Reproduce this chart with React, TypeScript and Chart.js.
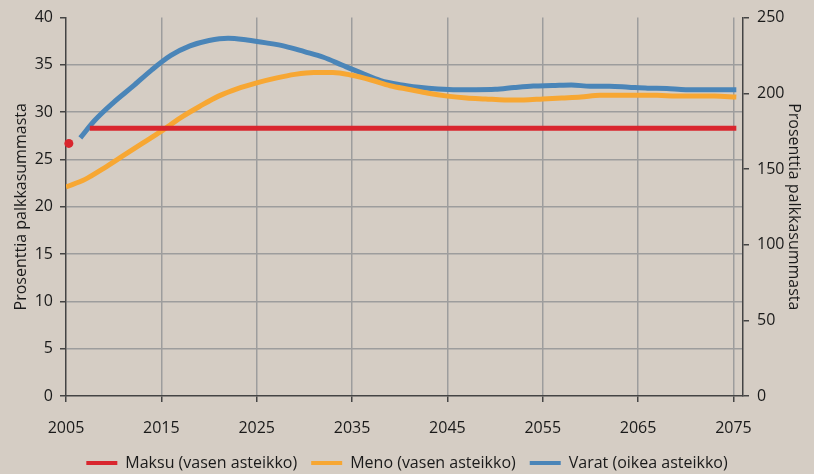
import React, { useEffect, useRef } from "react";
import { Chart, registerables } from "chart.js";

Chart.register(...registerables);

// X axis tick labels (years)
const xTicks = [2005, 2015, 2025, 2035, 2045, 2055, 2065, 2075];

// Maksu (left axis)
const maksuYears = [2007.5, 2075.3];
const maksuValues = [28.3, 28.3];
const maksuDotYears = [2005.3];
const maksuDotValues = [26.7];

// Meno (left axis)
const menoYears = [
  2005, 2007, 2009, 2011, 2013, 2015, 2017, 2019, 2021, 2023, 2025, 2027,
  2029, 2031, 2033, 2035, 2037, 2039, 2041, 2043, 2045, 2047, 2049, 2051,
  2053, 2055, 2057, 2059, 2061, 2063, 2065, 2067, 2069, 2071, 2073, 2075.3,
];
const menoValues = [
  22.1, 22.9, 24.1, 25.4, 26.7, 28.0, 29.4, 30.6, 31.7, 32.5, 33.1, 33.6,
  34.0, 34.2, 34.2, 33.9, 33.4, 32.8, 32.4, 32.0, 31.7, 31.5, 31.4, 31.3,
  31.3, 31.4, 31.5, 31.6, 31.8, 31.8, 31.8, 31.8, 31.7, 31.7, 31.7, 31.6,
];

// Varat (right axis)
const varatYears = [
  2006.5, 2008, 2010, 2012, 2014, 2016, 2018, 2020, 2022, 2024, 2026, 2028,
  2030, 2032, 2034, 2036, 2038, 2040, 2042, 2044, 2046, 2048, 2050, 2052,
  2054, 2056, 2058, 2060, 2062, 2064, 2066, 2068, 2070, 2072, 2075.3,
];
const varatValues = [
  170.5, 182, 194, 204.5, 215.5, 225, 231.3, 234.9, 236.4, 235.2, 233.3, 231,
  227.5, 223.8, 218.5, 213.3, 208.4, 205.7, 204, 202.9, 202.4, 202.4, 202.6, 203.8,
  204.8, 205.1, 205.5, 204.6, 204.6, 204, 203.4, 203.1, 202.4, 202.4, 202.4,
];

const labels = ["Maksu (vasen asteikko)", "Meno (vasen asteikko)", "Varat (oikea asteikko)"];
const axisTitle = "Prosenttia palkkasummasta";

const RED = "#d9262e";
const ORANGE = "#f7a733";
const BLUE = "#4a85b8";
const GRID = "#9d9d9d";
const AXIS = "#444444";
const TEXT = "#1a1a1a";
const FONT = "'Open Sans', sans-serif";

const pts = (xs: number[], ys: number[]) => xs.map((x, i) => ({ x, y: ys[i] }));

export default function App() {
  const ref = useRef<HTMLCanvasElement | null>(null);

  useEffect(() => {
    document.body.style.margin = "0";
    document.body.style.overflow = "hidden";
    if (!ref.current) return;
    const chart = new Chart(ref.current, {
      type: "line",
      data: {
        datasets: [
          {
            label: labels[0],
            data: pts(maksuYears, maksuValues),
            borderColor: RED,
            backgroundColor: RED,
            borderWidth: 5,
            pointRadius: 0,
            yAxisID: "y",
          },
          {
            label: labels[1],
            data: pts(menoYears, menoValues),
            borderColor: ORANGE,
            backgroundColor: ORANGE,
            borderWidth: 5,
            pointRadius: 0,
            cubicInterpolationMode: "monotone",
            yAxisID: "y",
          },
          {
            label: labels[2],
            data: pts(varatYears, varatValues),
            borderColor: BLUE,
            backgroundColor: BLUE,
            borderWidth: 5,
            pointRadius: 0,
            cubicInterpolationMode: "monotone",
            yAxisID: "y1",
          },
          {
            label: "",
            data: pts(maksuDotYears, maksuDotValues),
            borderColor: RED,
            backgroundColor: RED,
            showLine: false,
            pointRadius: 4.5,
            pointBorderWidth: 0,
            clip: false,
            yAxisID: "y",
          } as any,
        ],
      },
      options: {
        animation: false,
        responsive: false,
        layout: { padding: { top: 16, bottom: -7, left: 0, right: 0 } },
        plugins: {
          tooltip: { enabled: false },
          legend: {
            position: "bottom",
            labels: {
              boxWidth: 31,
              boxHeight: 4,
              padding: 14,
              color: TEXT,
              font: { family: FONT, size: 16 },
              generateLabels: (c: any) =>
                Chart.defaults.plugins.legend.labels
                  .generateLabels(c)
                  .filter((l: any) => l.text)
                  .map((l: any) => ({ ...l, lineWidth: 0 })),
            },
          },
        },
        scales: {
          x: {
            type: "linear",
            min: 2005,
            max: 2076,
            afterBuildTicks: (s: any) => {
              s.ticks = xTicks.map((v) => ({ value: v }));
            },
            afterFit: (s: any) => {
              s.height = 45;
            },
            ticks: {
              color: TEXT,
              font: { family: FONT, size: 16 },
              padding: 17,
              maxRotation: 0,
              autoSkip: false,
              callback: (v: any) => String(v),
            },
            grid: {
              color: (c: any) => (c.tick && c.tick.value === 2005 ? "rgba(0,0,0,0)" : GRID),
              lineWidth: 1.5,
              tickColor: AXIS,
              tickLength: 6,
            },
            border: { color: AXIS, width: 1.5 },
          },
          y: {
            position: "left",
            min: 0,
            max: 40,
            ticks: {
              stepSize: 5,
              color: TEXT,
              font: { family: FONT, size: 16 },
              padding: 7,
            },
            afterFit: (s: any) => {
              s.width = 66;
            },
            grid: {
              color: (c: any) =>
                c.tick && (c.tick.value === 0 || c.tick.value === 40) ? "rgba(0,0,0,0)" : GRID,
              lineWidth: 1.5,
              tickColor: AXIS,
              tickLength: 6,
            },
            border: { color: AXIS, width: 1.5 },
            title: {
              display: true,
              text: axisTitle,
              color: TEXT,
              font: { family: FONT, size: 16 },
              padding: { top: 12, bottom: 0 },
            },
          },
          y1: {
            position: "right",
            min: 0,
            max: 250,
            ticks: {
              stepSize: 50,
              color: TEXT,
              font: { family: FONT, size: 16 },
              padding: 8,
            },
            afterFit: (s: any) => {
              s.width = 71;
            },
            grid: {
              drawOnChartArea: false,
              tickColor: AXIS,
              tickLength: 6,
              lineWidth: 1.5,
            },
            border: { color: AXIS, width: 1.5 },
            title: {
              display: true,
              text: axisTitle,
              color: TEXT,
              font: { family: FONT, size: 16 },
              padding: { top: 11, bottom: 0 },
            },
          },
        },
      },
    });
    return () => chart.destroy();
  }, []);

  return (
    <div style={{ width: 814, height: 474, background: "#d5cdc4" }}>
      <canvas ref={ref} width={814} height={474} style={{ display: "block" }} />
    </div>
  );
}
